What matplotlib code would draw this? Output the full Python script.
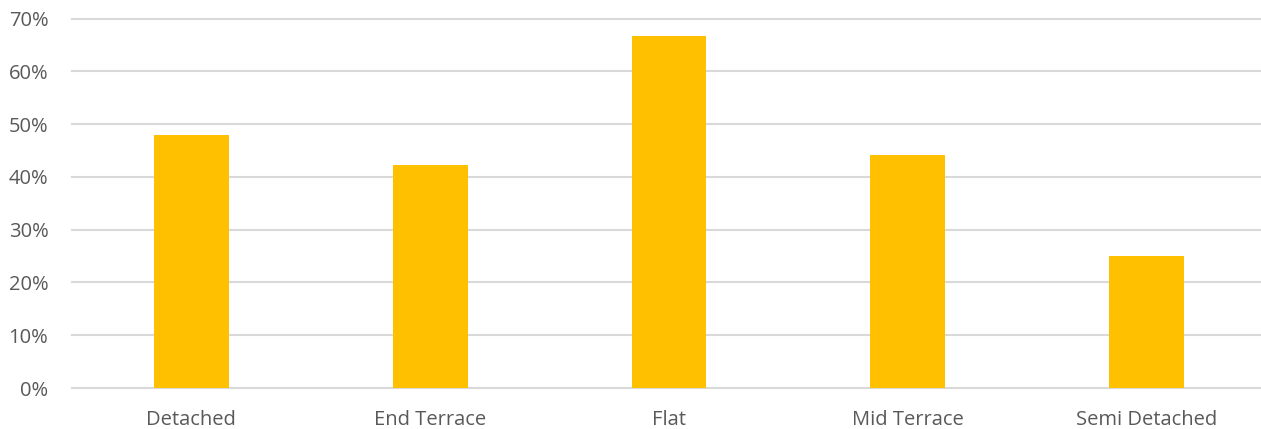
import matplotlib
matplotlib.use("Agg")
import matplotlib.pyplot as plt
from matplotlib.ticker import PercentFormatter

categories = ["Detached", "End Terrace", "Flat", "Mid Terrace", "Semi Detached"]
shares = [48.0, 42.3, 66.7, 44.2, 25.0]
y_ticks = [0, 10, 20, 30, 40, 50, 60, 70]

plt.rcParams["font.family"] = ["Open Sans", "DejaVu Sans"]

W, H = 1261, 429
fig = plt.figure(figsize=(W / 100, H / 100), dpi=100)
left, right = 72, 1266
bottom, top = 388, 18.7
ax = fig.add_axes([left / W, (H - bottom) / H, (right - left) / W, (bottom - top) / H])

x = range(len(categories))
ax.bar(x, shares, width=0.314, color="#FFC000", zorder=3)

ax.set_xlim(-0.5, len(categories) - 0.5)
ax.set_ylim(0, 70)
ax.set_yticks(y_ticks)
ax.yaxis.set_major_formatter(PercentFormatter(decimals=0))
ax.set_xticks(list(x))
ax.set_xticklabels(categories)

ax.grid(axis="y", color="#D9D9D9", linewidth=1.5, zorder=0)
for gl in ax.get_ygridlines():
    gl.set_clip_on(False)
for s in ax.spines.values():
    s.set_visible(False)
ax.tick_params(axis="both", length=0, colors="#595959", labelsize=14.5)
ax.tick_params(axis="y", pad=17)
ax.tick_params(axis="x", pad=16)

fig.savefig("out.png", dpi=100)
